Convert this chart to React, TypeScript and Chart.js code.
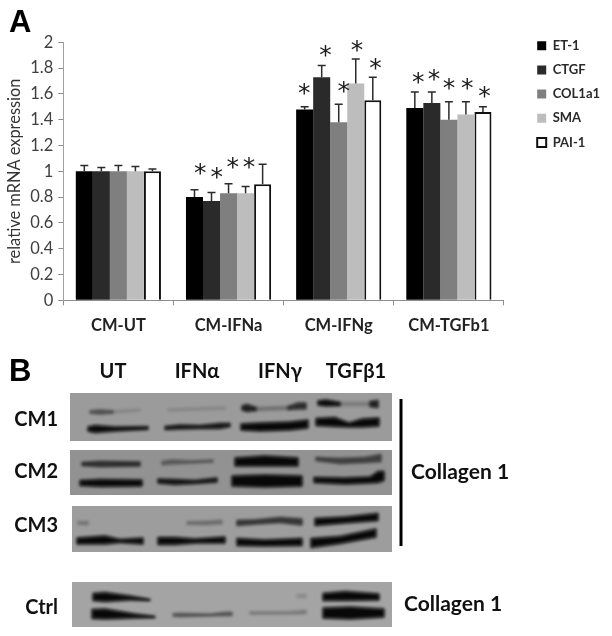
import React, { useEffect, useRef } from "react";
import { Chart, registerables } from "chart.js";

Chart.register(...registerables);

// ---- Panel A data ----
const categories = ["CM-UT", "CM-IFNa", "CM-IFNg", "CM-TGFb1"];
const seriesNames = ["ET-1", "CTGF", "COL1a1", "SMA", "PAI-1"];
const et1 = [1, 0.8, 1.48, 1.49];
const ctgf = [1, 0.77, 1.73, 1.53];
const col1a1 = [1, 0.83, 1.38, 1.4];
const sma = [1, 0.83, 1.68, 1.44];
const pai1 = [1, 0.9, 1.55, 1.46];
const et1Err = [0.045, 0.057, 0.02, 0.125];
const ctgfErr = [0.03, 0.066, 0.09, 0.085];
const col1a1Err = [0.045, 0.073, 0.14, 0.14];
const smaErr = [0.037, 0.053, 0.19, 0.1];
const pai1Err = [0.017, 0.155, 0.18, 0.04];
const yTicks = [0, 0.2, 0.4, 0.6, 0.8, 1, 1.2, 1.4, 1.6, 1.8, 2];
// significance marks: [category position, value height]
const stars = [
  [0.742, 1.035], [0.894, 1.0], [1.039, 1.08], [1.185, 1.08],
  [1.688, 1.65], [1.879, 1.95], [2.045, 1.67], [2.167, 1.99], [2.333, 1.85],
  [2.721, 1.74], [2.864, 1.76], [3.0, 1.69], [3.167, 1.69], [3.324, 1.63],
];

// ---- Panel B data: blot bands, each [x, y, thickness] along the band, with an intensity ----
type Band = { pts: number[][]; v: number };
const panels = [
  { name: "CM1", x0: 70, x1: 392, y0: 393, y1: 441, tone: "#9b9b9b" },
  { name: "CM2", x0: 70, x1: 392, y0: 450, y1: 495, tone: "#929292" },
  { name: "CM3", x0: 72, x1: 392, y0: 506, y1: 552, tone: "#9d9d9d" },
  { name: "Ctrl", x0: 72, x1: 392, y0: 582, y1: 627, tone: "#a4a4a4" },
];
const cm1Bands: Band[] = [
  { pts: [[90, 412, 2], [100, 412, 4], [113, 412, 2]], v: 0.5 },
  { pts: [[113, 412, 2], [140, 410, 1.5]], v: 0.12 },
  { pts: [[88, 429, 4], [95, 429, 7], [115, 429, 4], [148, 428, 2.5]], v: 1 },
  { pts: [[165, 428, 3], [180, 427, 4], [200, 427, 3], [220, 426, 5], [230, 425, 3]], v: 0.95 },
  { pts: [[168, 410, 1.5], [225, 408, 2]], v: 0.12 },
  { pts: [[242, 408, 4], [247, 408, 7], [256, 409, 3]], v: 0.85 },
  { pts: [[256, 409, 3], [288, 408, 3]], v: 0.25 },
  { pts: [[288, 408, 3], [298, 406, 6], [306, 406, 6]], v: 0.75 },
  { pts: [[241, 427, 6], [260, 427, 8], [290, 426, 8], [308, 424, 8]], v: 1 },
  { pts: [[318, 403, 4], [326, 403, 6], [340, 404, 3]], v: 1 },
  { pts: [[340, 404, 3], [370, 404, 3]], v: 0.2 },
  { pts: [[370, 404, 5], [378, 404, 7]], v: 0.85 },
  { pts: [[316, 422, 7], [335, 422, 9], [349, 425, 4], [362, 423, 8], [379, 422, 8]], v: 1 },
];
const cm2Bands: Band[] = [
  { pts: [[82, 464, 3], [100, 464, 5], [140, 464, 4]], v: 0.75 },
  { pts: [[80, 483, 5], [100, 483, 7], [142, 483, 6]], v: 1 },
  { pts: [[162, 463, 3], [172, 462, 4], [190, 462, 2], [213, 461, 2]], v: 0.4 },
  { pts: [[158, 481, 4], [175, 482, 5], [195, 482, 3], [217, 480, 4]], v: 0.95 },
  { pts: [[235, 462, 8], [265, 461, 10], [298, 462, 8]], v: 1 },
  { pts: [[232, 481, 10], [265, 481, 12], [302, 481, 10]], v: 1 },
  { pts: [[316, 459, 3], [340, 461, 5], [365, 460, 5], [381, 458, 7]], v: 0.6 },
  { pts: [[314, 480, 5], [345, 481, 6], [370, 480, 6], [378, 477, 11], [384, 476, 9]], v: 1 },
];
const cm3Bands: Band[] = [
  { pts: [[78, 523, 2], [88, 523, 3]], v: 0.25 },
  { pts: [[77, 541, 6], [105, 540, 8], [120, 541, 3], [143, 541, 6]], v: 1 },
  { pts: [[187, 523, 2], [205, 523, 3], [222, 522, 3]], v: 0.3 },
  { pts: [[158, 541, 7], [175, 541, 7], [195, 541, 4], [225, 540, 6]], v: 1 },
  { pts: [[237, 523, 5], [255, 522, 4], [280, 520, 5], [302, 522, 6]], v: 0.7 },
  { pts: [[237, 542, 7], [265, 543, 6], [302, 542, 7]], v: 1 },
  { pts: [[315, 522, 7], [345, 520, 6], [378, 517, 7]], v: 1 },
  { pts: [[311, 543, 9], [340, 540, 7], [376, 533, 8]], v: 1 },
];
const ctrlBands: Band[] = [
  { pts: [[93, 597, 7], [105, 597, 9], [130, 598, 4], [150, 600, 1]], v: 1 },
  { pts: [[92, 614, 9], [105, 614, 10], [135, 616, 4], [155, 617, 1]], v: 1 },
  { pts: [[173, 615, 2], [180, 615, 3], [210, 615, 1.5], [225, 614, 3], [232, 614, 3]], v: 0.5 },
  { pts: [[250, 613, 2], [285, 613, 1.5], [306, 612, 3]], v: 0.25 },
  { pts: [[297, 596, 2], [306, 596, 3]], v: 0.15 },
  { pts: [[323, 597, 7], [345, 596, 9], [379, 597, 6]], v: 1 },
  { pts: [[323, 613, 10], [350, 613, 12], [384, 613, 8]], v: 1 },
];
const allBands = [...cm1Bands, ...cm2Bands, ...cm3Bands, ...ctrlBands];
const laneLabels = [["UT", 113], ["IFNα", 197], ["IFNγ", 280], ["TGFβ1", 356]] as [string, number][];
const rowLabels = [["CM1", 420], ["CM2", 472], ["CM3", 526], ["Ctrl", 608]] as [string, number][];
const targetLabels = [["Collagen 1", 411, 472], ["Collagen 1", 404, 604]] as [string, number, number][];

const barFills = ["#000000", "#2a2a2a", "#7f7f7f", "#bdbdbd", "#ffffff"];
const values = [et1, ctgf, col1a1, sma, pai1];
const errors = [et1Err, ctgfErr, col1a1Err, smaErr, pai1Err];

const panelAPlugin = {
  id: "panelA",
  afterLayout(chart: any) {
    const lg = chart.legend;
    if (lg) {
      const w = lg.width, h = lg.height;
      lg.left = 526; lg.right = 526 + w;
      lg.top = 28; lg.bottom = 28 + h;
    }
  },
  afterDatasetsDraw(chart: any) {
    const { ctx, scales } = chart;
    ctx.save();
    ctx.strokeStyle = "#2b2b2b";
    ctx.lineWidth = 1.5;
    chart.data.datasets.forEach((_: any, di: number) => {
      chart.getDatasetMeta(di).data.forEach((bar: any, i: number) => {
        const top = scales.y.getPixelForValue(values[di][i] + errors[di][i]);
        const base = scales.y.getPixelForValue(values[di][i]);
        ctx.beginPath();
        ctx.moveTo(bar.x, base);
        ctx.lineTo(bar.x, top);
        ctx.moveTo(bar.x - 4, top);
        ctx.lineTo(bar.x + 4, top);
        ctx.stroke();
      });
    });
    ctx.fillStyle = "#1c1c1c";
    ctx.textAlign = "center";
    ctx.textBaseline = "alphabetic";
    ctx.font = "25px 'DejaVu Sans'";
    stars.forEach(([c, v]) => {
      ctx.fillText("*", scales.x.getPixelForValue(c), scales.y.getPixelForValue(v) + 14);
    });
    ctx.fillStyle = "#000";
    ctx.textAlign = "left";
    ctx.font = "bold 31px 'Liberation Sans'";
    ctx.fillText("A", 9, 32);
    ctx.restore();
  },
};

const panelBPlugin = {
  id: "panelB",
  beforeDatasetsDraw(chart: any) {
    const { ctx, scales } = chart;
    const X = (v: number) => scales.x.getPixelForValue(v);
    const Y = (v: number) => scales.y.getPixelForValue(v);
    ctx.save();
    ctx.filter = "blur(0.6px)";
    panels.forEach((p) => {
      ctx.fillStyle = p.tone;
      ctx.fillRect(X(p.x0), Y(p.y0), X(p.x1) - X(p.x0), Y(p.y1) - Y(p.y0));
    });
    ctx.filter = "blur(1.6px)";
    chart.data.datasets.forEach((ds: any, di: number) => {
      const meta = chart.getDatasetMeta(di).data;
      const th = ds.thickness as number[];
      ctx.fillStyle = `rgba(8,8,8,${ds.intensity})`;
      ctx.strokeStyle = ctx.fillStyle;
      ctx.lineWidth = 1;
      ctx.lineJoin = "round";
      ctx.beginPath();
      meta.forEach((pt: any, i: number) => {
        const yy = pt.y - th[i] / 2;
        i === 0 ? ctx.moveTo(pt.x, yy) : ctx.lineTo(pt.x, yy);
      });
      for (let i = meta.length - 1; i >= 0; i--) ctx.lineTo(meta[i].x, meta[i].y + th[i] / 2);
      ctx.closePath();
      ctx.fill();
      ctx.stroke();
    });
    ctx.filter = "none";

    // bracket
    ctx.fillStyle = "#000";
    ctx.fillRect(X(399.5), Y(399), 3, Y(546) - Y(399));

    // text
    ctx.fillStyle = "#111";
    ctx.textBaseline = "middle";
    ctx.textAlign = "center";
    ctx.font = "bold 20px Lato";
    laneLabels.forEach(([t, x]) => ctx.fillText(t, X(x), Y(372)));
    ctx.textAlign = "right";
    ctx.font = "bold 20px Lato";
    rowLabels.forEach(([t, y]) => ctx.fillText(t, X(58), Y(y)));
    ctx.textAlign = "left";
    ctx.font = "bold 21px Lato";
    targetLabels.forEach(([t, x, y]) => ctx.fillText(t, X(x), Y(y)));
    ctx.fillStyle = "#000";
    ctx.textBaseline = "alphabetic";
    ctx.font = "bold 31px 'Liberation Sans'";
    ctx.fillText("B", 9, Y(381));
    ctx.restore();
  },
};

export default function App() {
  const aRef = useRef<HTMLCanvasElement>(null);
  const bRef = useRef<HTMLCanvasElement>(null);

  useEffect(() => {
    document.body.style.margin = "0";
    document.body.style.background = "#fff";
    const a = new Chart(aRef.current as any, {
      type: "bar",
      data: {
        labels: categories,
        datasets: seriesNames.map((n, i) => ({
          label: n,
          data: values[i],
          backgroundColor: barFills[i],
          borderColor: i === 4 ? "#111" : barFills[i],
          borderWidth: i === 4 ? 2 : 0,
          categoryPercentage: 0.773,
          barPercentage: 1,
        })),
      },
      options: {
        animation: false,
        responsive: false,
        layout: { autoPadding: false, padding: { top: 42.3, left: 0, right: 24, bottom: 0 } },
        plugins: {
          tooltip: { enabled: false },
          legend: {
            position: "right",
            align: "start",
            labels: {
              boxWidth: 9,
              boxHeight: 9,
              padding: 11.2,
              color: "#2a2a2a",
              font: { family: "Lato", weight: "bold", size: 13 },
            },
          },
        },
        scales: {
          x: {
            type: "category",
            border: { color: "#8c8c8c" },
            grid: { drawOnChartArea: false, drawTicks: true, tickLength: 5, offset: true, color: "#8c8c8c" },
            ticks: { color: "#222", padding: 10, maxRotation: 0, font: { family: "Lato", weight: "bold", size: 16.5 } },
            afterFit: (s: any) => { s.height = 49.7; },
          },
          y: {
            min: 0,
            max: 2,
            border: { color: "#a0a0a0" },
            afterBuildTicks: (s: any) => { s.ticks = yTicks.map((value) => ({ value })); },
            afterFit: (s: any) => { s.width = 63.3; },
            grid: { drawOnChartArea: false, tickLength: 5, color: "#8c8c8c" },
            ticks: {
              color: "#404040",
              padding: 5,
              font: { family: "Lato", size: 16.5 },
              callback: (v: any) => String(v),
            },
            title: {
              display: true,
              text: "relative mRNA expression",
              color: "#333",
              padding: { top: 5, bottom: 0 },
              font: { family: "Lato", size: 16.4 },
            },
          },
        },
      },
      plugins: [panelAPlugin],
    } as any);

    const b = new Chart(bRef.current as any, {
      type: "scatter",
      data: {
        datasets: allBands.map((band) => ({
          data: band.pts.map(([x, y]) => ({ x, y })),
          thickness: band.pts.map((p) => p[2]),
          intensity: band.v,
          pointRadius: 0,
          showLine: false,
        })),
      } as any,
      options: {
        animation: false,
        responsive: false,
        layout: { autoPadding: false, padding: 0 },
        plugins: { legend: { display: false }, tooltip: { enabled: false } },
        scales: {
          x: { type: "linear", display: false, min: 0, max: 612 },
          y: { type: "linear", display: false, min: 350, max: 636, reverse: true },
        },
      },
      plugins: [panelBPlugin],
    } as any);

    return () => {
      a.destroy();
      b.destroy();
    };
  }, []);

  return (
    <div style={{ position: "absolute", left: 0, top: 0, width: 612, height: 636, background: "#fff" }}>
      <canvas ref={aRef} width={612} height={350} style={{ position: "absolute", left: 0, top: 0 }} />
      <canvas ref={bRef} width={612} height={286} style={{ position: "absolute", left: 0, top: 350 }} />
    </div>
  );
}
